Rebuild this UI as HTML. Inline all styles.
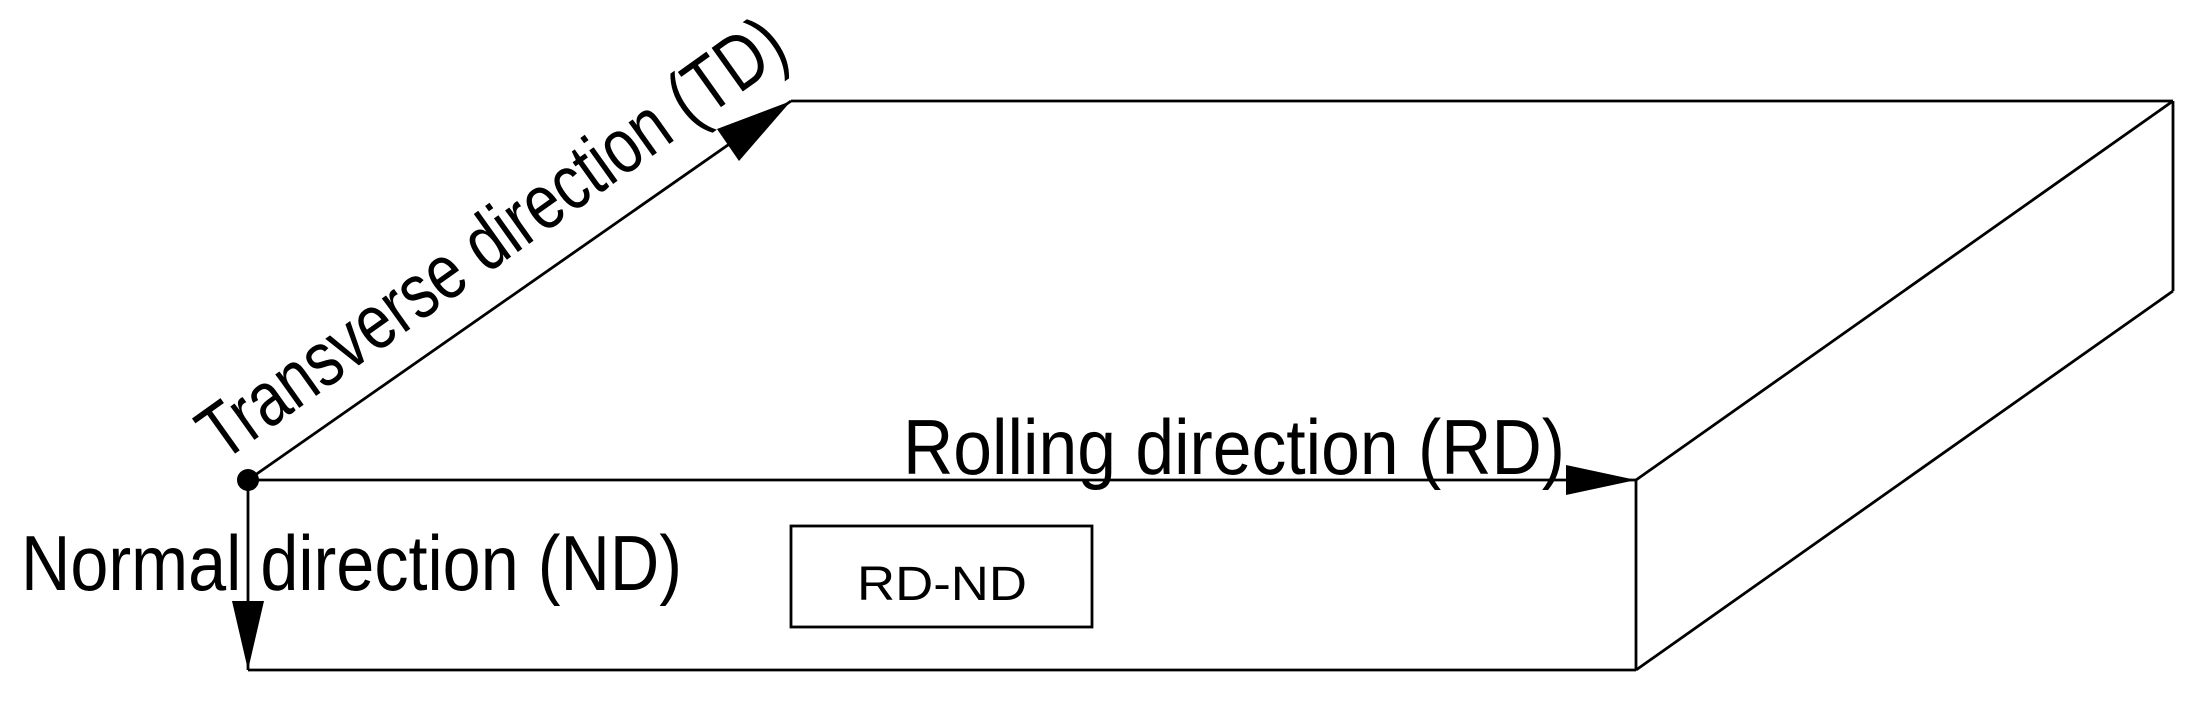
<!DOCTYPE html>
<html><head><style>html,body{margin:0;padding:0;background:#fff;}svg{display:block}</style></head>
<body>
<svg width="2193" height="706" viewBox="0 0 2193 706" xmlns="http://www.w3.org/2000/svg">
<g stroke="#000" stroke-width="2.8" fill="none">
<line x1="248" y1="480" x2="1636" y2="480"/>
<line x1="248" y1="670" x2="1636" y2="670"/>
<line x1="248" y1="480" x2="248" y2="670"/>
<line x1="1636" y1="480" x2="1636" y2="670"/>
<line x1="791" y1="101" x2="2173" y2="101"/>
<line x1="248" y1="480" x2="791" y2="101"/>
<line x1="2173" y1="101" x2="1636" y2="480"/>
<line x1="2173" y1="101" x2="2173" y2="291"/>
<line x1="2173" y1="291" x2="1636" y2="670"/>
<rect x="791" y="526" width="301" height="101"/>
</g>
<circle cx="248" cy="480" r="11" fill="#000"/>
<polygon points="1636,480 1566,465 1566,495" fill="#000"/>
<polygon points="248,670 232,601 264,601" fill="#000"/>
<polygon points="791,101 739,161 717,129" fill="#000"/>
<g font-family="Liberation Sans, sans-serif" fill="#000">
<text x="903" y="474" font-size="78" textLength="662" lengthAdjust="spacingAndGlyphs">Rolling direction (RD)</text>
<text x="21" y="590" font-size="78" textLength="661" lengthAdjust="spacingAndGlyphs">Normal direction (ND)</text>
<text x="942" y="600" font-size="48" text-anchor="middle" textLength="170" lengthAdjust="spacingAndGlyphs">RD-ND</text>
<text transform="translate(222,463) rotate(-35.5)" font-size="78" textLength="700" lengthAdjust="spacingAndGlyphs">Transverse direction (TD)</text>
</g>
</svg>
</body></html>
